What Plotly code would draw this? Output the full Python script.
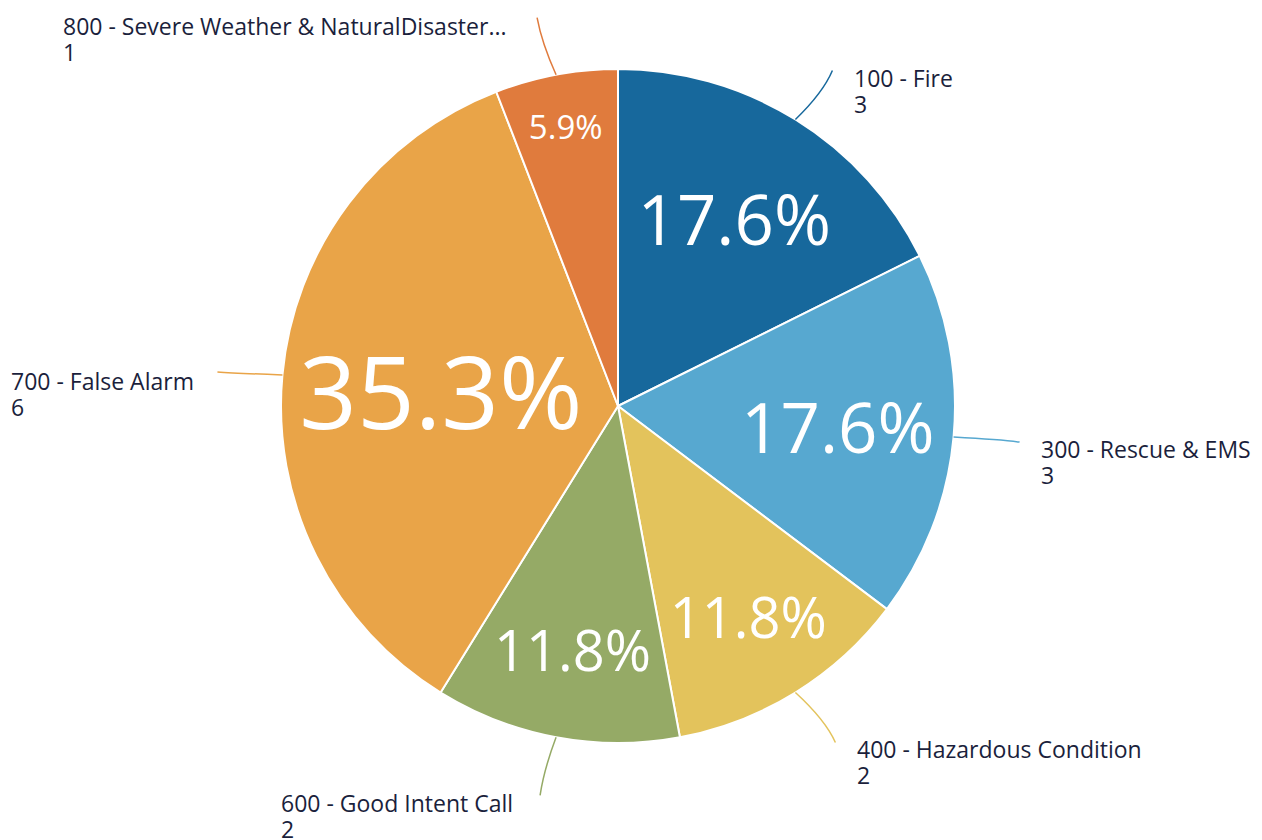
import plotly.graph_objects as go
import math

labels = ["100 - Fire", "300 - Rescue & EMS", "400 - Hazardous Condition",
          "600 - Good Intent Call", "700 - False Alarm",
          "800 - Severe Weather & NaturalDisaster..."]
counts = [3, 3, 2, 2, 6, 1]
colors = ["#17689c", "#57a8d0", "#e3c35c", "#95aa66", "#e9a448", "#e07b3d"]
pct_font_sizes = [69, 69, 56, 56, 101, 33]

W, H = 1262, 840
OFF = 8  # page body margin offset
CX, CY, R = 618 - OFF, 406 - OFF, 337

# leader line end offsets (px) and label anchor (left x, centre y of each line)
line_offsets = [(37, -49), (66, 5), (40, 50), (-16, 58), (-65, -3), (-19, -57)]
label_pos = [(853, 77), (1040, 448), (856, 748), (280, 802), (10, 380), (62, 25)]
LINE_GAP = 26


def px(x):
    return (x - OFF) / W


def py(y):
    return 1 - (y - OFF) / H


fig = go.Figure()
fig.add_trace(go.Pie(
    labels=labels,
    values=counts,
    sort=False,
    direction="clockwise",
    rotation=0,
    marker=dict(colors=colors, line=dict(color="white", width=2)),
    texttemplate="%{percent:.1%}",
    textposition="inside",
    insidetextorientation="horizontal",
    textfont=dict(family="Open Sans", color="white", size=pct_font_sizes),
    domain=dict(x=[(CX - R) / W, (CX + R) / W], y=[1 - (CY + R) / H, 1 - (CY - R) / H]),
    showlegend=False,
    hoverinfo="label+value+percent",
))

total = sum(counts)
cum = 0
shapes = []
annotations = []
for i, (lab, v) in enumerate(zip(labels, counts)):
    mid = (cum + v / 2) / total * 2 * math.pi
    cum += v
    sx = CX + OFF + R * math.sin(mid)
    sy = CY + OFF - R * math.cos(mid)
    ox, oy = line_offsets[i]
    ex, ey = sx + ox, sy + oy
    qx, qy = sx + ox * 0.75, sy + oy * 0.55
    path = f"M {px(sx)} {py(sy)} Q {px(qx)} {py(qy)} {px(ex)} {py(ey)}"
    shapes.append(dict(type="path", xref="paper", yref="paper", path=path,
                       line=dict(color=colors[i], width=1.5)))
    lx, ly = label_pos[i]
    for j, t in enumerate([lab, str(v)]):
        annotations.append(dict(
            x=px(lx), y=py(ly + j * LINE_GAP), xref="paper", yref="paper",
            xanchor="left", yanchor="middle", align="left", showarrow=False,
            text=t, borderpad=0, height=25,
            font=dict(family="Open Sans", size=23, color="#1b1f3c"),
        ))

fig.update_layout(
    width=W, height=H,
    margin=dict(l=0, r=0, t=0, b=0),
    paper_bgcolor="white",
    plot_bgcolor="white",
    shapes=shapes,
    annotations=annotations,
)

fig.write_html("out.html")
